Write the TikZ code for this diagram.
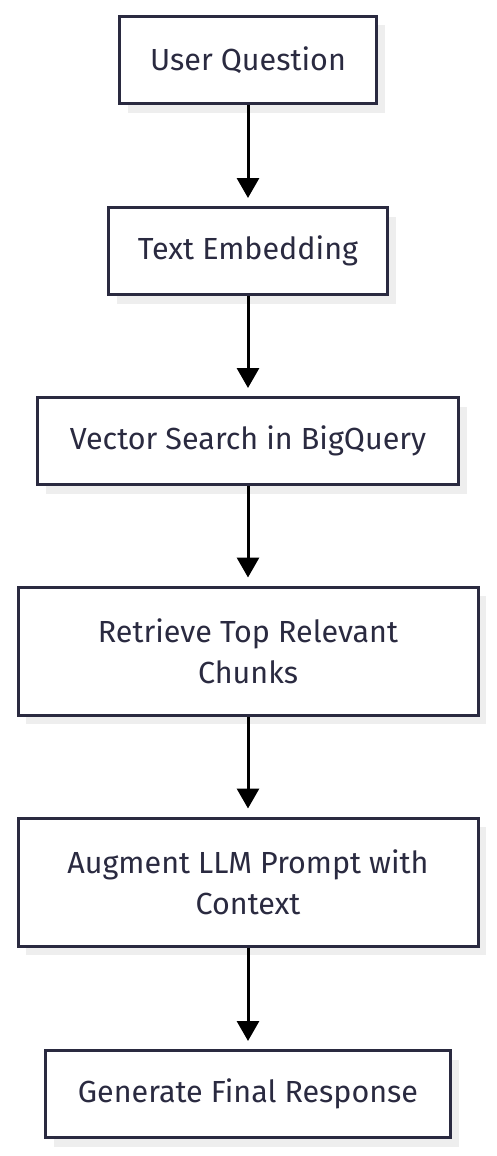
\documentclass[tikz,border=0pt]{standalone}
\usepackage{fontspec}
\setmainfont{Fira Sans}
\usetikzlibrary{arrows.meta,shadows}
\definecolor{boxnavy}{RGB}{42,42,64}
\definecolor{shadowgrey}{RGB}{238,238,238}

\begin{document}
\begin{tikzpicture}[x=1pt,y=1pt,
    procbox/.style={draw=boxnavy,line width=3pt,fill=white,
      text=boxnavy,align=center,minimum height=87pt,inner sep=0pt,
      font=\fontsize{30.5}{41}\selectfont,
      drop shadow={shadow xshift=8pt,shadow yshift=-9pt,
        fill=shadowgrey,opacity=1}},
    flowarrow/.style={-{Triangle[width=22pt,length=20pt]},line width=3pt,
      black,shorten >=8pt}]
  \useasboundingbox (0,0) rectangle (496,-1156);
  % boxes, top to bottom
  \node[procbox,minimum width=257pt] (quest) at (248,-60) {User Question};
  \node[procbox,minimum width=279pt] (embed) at (248,-251) {Text Embedding};
  \node[procbox,minimum width=421pt] (vsearch) at (248,-441)
    {Vector Search in BigQuery};
  \node[procbox,minimum width=460pt,minimum height=128pt] (retrieve)
    at (248,-651) {Retrieve Top Relevant\\Chunks};
  \node[procbox,minimum width=460pt,minimum height=128pt] (augment)
    at (248,-882) {Augment LLM Prompt with\\Context};
  \node[procbox,minimum width=405pt] (generate) at (248,-1094)
    {Generate Final Response};
  % arrows
  \draw[flowarrow] (quest) -- (embed);
  \draw[flowarrow] (embed) -- (vsearch);
  \draw[flowarrow] (vsearch) -- (retrieve);
  \draw[flowarrow] (retrieve) -- (augment);
  \draw[flowarrow] (augment) -- (generate);
\end{tikzpicture}
\end{document}
